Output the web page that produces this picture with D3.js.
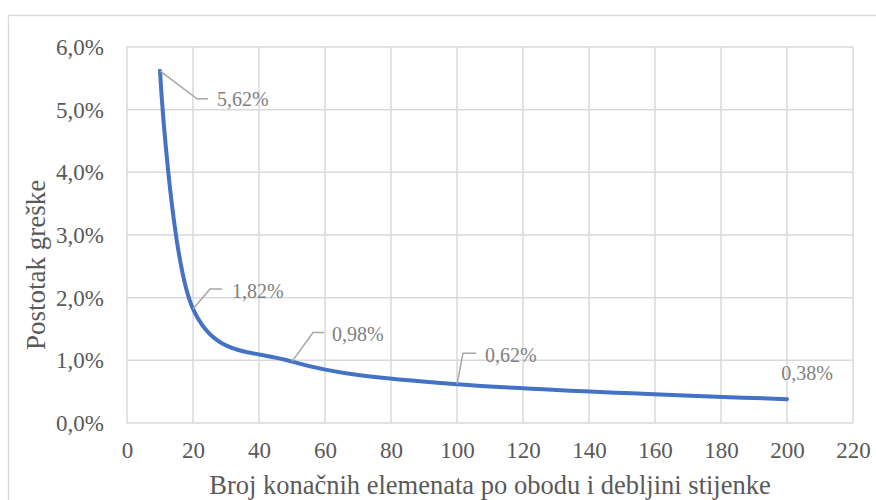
<!DOCTYPE html>
<html><head><meta charset="utf-8">
<script src="https://cdn.jsdelivr.net/npm/d3@7"></script>
</head><body style="margin:0;background:#fff">
<script>
// Data
const elements = [10, 20, 50, 100, 200];
const errorPct = [5.62, 1.82, 0.98, 0.62, 0.38];
const xTicks = [0, 20, 40, 60, 80, 100, 120, 140, 160, 180, 200, 220];
const yTicks = [0, 1, 2, 3, 4, 5, 6];
const xTitle = "Broj konačnih elemenata po obodu i debljini stijenke";
const yTitle = "Postotak greške";

const W = 876, H = 500;
const FONT = "Liberation Serif";
const m = {left: 127, right: 853, top: 47, bottom: 423};
const fmtPct = v => v.toFixed(1).replace(".", ",") + "%";
const fmtLbl = v => v.toFixed(2).replace(".", ",") + "%";

const svg = d3.select("body").append("svg").attr("width", W).attr("height", H)
  .style("display", "block");

svg.append("rect").attr("x", 8.5).attr("y", 15.5).attr("width", 1000).attr("height", 1000)
  .attr("fill", "#fff").attr("stroke", "#d9d9d9").attr("stroke-width", 1.3);

const x = d3.scaleLinear().domain([0, 220]).range([m.left, m.right]);
const y = d3.scaleLinear().domain([0, 6]).range([m.bottom, m.top]);

// grid
const grid = svg.append("g").attr("stroke", "#d9d9d9").attr("stroke-width", 1.5);
grid.selectAll(".vg").data(xTicks).join("line")
  .attr("x1", d => x(d)).attr("x2", d => x(d)).attr("y1", m.top).attr("y2", m.bottom);
grid.selectAll(".hg").data(yTicks).join("line")
  .attr("x1", m.left).attr("x2", m.right).attr("y1", d => y(d)).attr("y2", d => y(d));

// axes via d3
const xAxis = svg.append("g").attr("transform", `translate(0,${m.bottom})`)
  .call(d3.axisBottom(x).tickValues(xTicks).tickSize(0).tickPadding(19));
const yAxis = svg.append("g").attr("transform", `translate(${m.left},0)`)
  .call(d3.axisLeft(y).tickValues(yTicks).tickFormat(fmtPct).tickSize(0).tickPadding(23));
[xAxis, yAxis].forEach(g => {
  g.attr("font-family", FONT).attr("font-size", 23);
  g.select(".domain").remove();
  g.selectAll("text").attr("fill", "#595959").attr("font-family", FONT).attr("font-size", 23);
});

// line
const pts = elements.map((e, i) => [e, errorPct[i]]);
svg.append("path").datum(pts)
  .attr("fill", "none").attr("stroke", "#4472c4").attr("stroke-width", 4)
  .attr("stroke-linecap", "round")
  .attr("d", d3.line().x(d => x(d[0])).y(d => y(d[1])).curve(d3.curveCardinal.tension(0)));

// data labels with leader lines (offsets in px)
const lblStyle = [
  {lead: [[37, 28], [48, 28]], tx: 57, ty: 28, anchor: "start"},
  {lead: [[17, -20], [29, -20]], tx: 39, ty: -18, anchor: "start"},
  {lead: [[21, -29], [32, -29]], tx: 40, ty: -28, anchor: "start"},
  {lead: [[6, -31], [19, -31]], tx: 28, ty: -29, anchor: "start"},
  {lead: null, tx: 20, ty: -26, anchor: "middle"}
];
elements.forEach((e, i) => {
  const px = x(e), py = y(errorPct[i]);
  const s = lblStyle[i];
  if (s.lead) {
    svg.append("polyline")
      .attr("points", [[px, py], ...s.lead.map(p => [px + p[0], py + p[1]])].map(p => p.join(",")).join(" "))
      .attr("fill", "none").attr("stroke", "#a6a6a6").attr("stroke-width", 1.5);
  }
  svg.append("text").attr("x", px + s.tx).attr("y", py + s.ty).attr("dy", "0.35em")
    .attr("text-anchor", s.anchor).attr("fill", "#7f7f7f")
    .attr("font-family", FONT).attr("font-size", 20)
    .text(fmtLbl(errorPct[i]));
});

// titles
svg.append("text").attr("x", (m.left + m.right) / 2).attr("y", 494)
  .attr("text-anchor", "middle").attr("fill", "#595959")
  .attr("font-family", FONT).attr("font-size", 26.5).text(xTitle);
svg.append("text").attr("transform", "translate(45,265) rotate(-90)")
  .attr("text-anchor", "middle").attr("fill", "#595959")
  .attr("font-family", FONT).attr("font-size", 27).text(yTitle);
</script>
</body></html>
